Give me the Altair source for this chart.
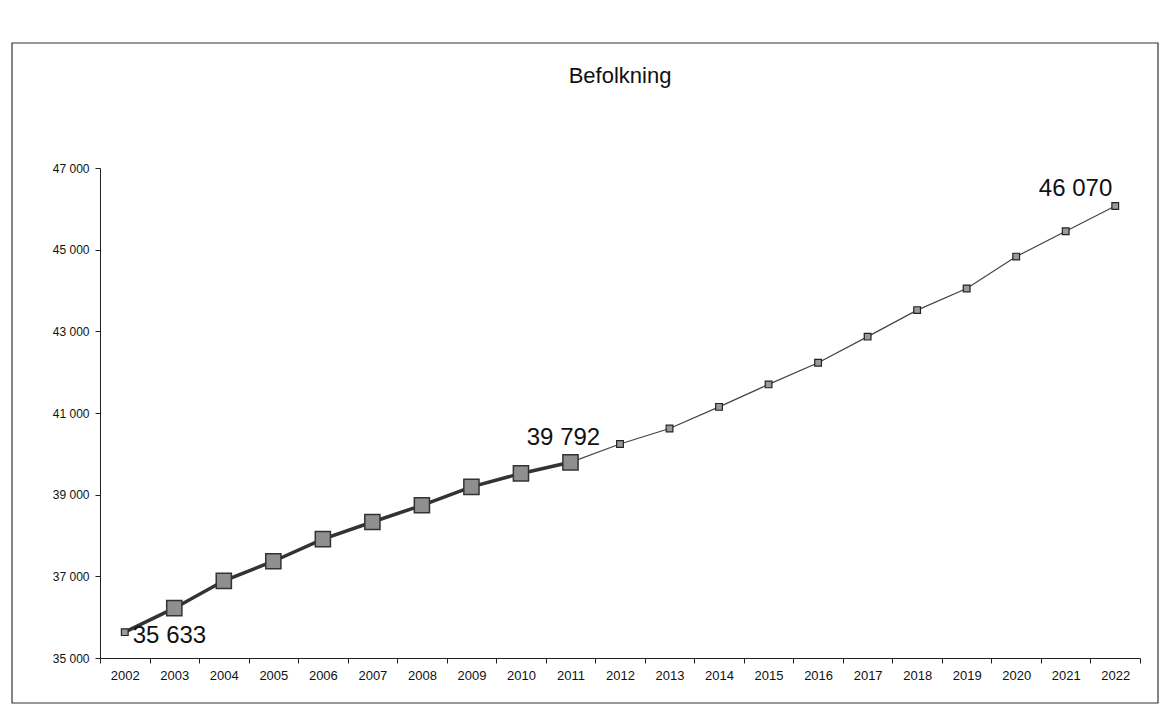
import altair as alt
import pandas as pd

years = [str(y) for y in range(2002, 2023)]
hist_years = [str(y) for y in range(2002, 2012)]
hist_values = [35633, 36220, 36890, 37370, 37910, 38330, 38740, 39190, 39520, 39792]
proj_years = [str(y) for y in range(2002, 2023)]
proj_values = [35633, 36220, 36890, 37370, 37910, 38330, 38740, 39190, 39520, 39792,
               40240, 40620, 41150, 41700, 42230, 42870, 43520, 44050, 44830, 45450, 46070]
label_years = ["2002", "2011", "2022"]
label_values = [35633, 39792, 46070]
label_texts = ["35 633", "39 792", "46 070"]
y_ticks = [35000, 37000, 39000, 41000, 43000, 45000, 47000]
title_text = "Befolkning"

W, H = 1040, 490
FONT = "Liberation Sans"

hist = pd.DataFrame({"year": hist_years, "value": hist_values})
hist_big = hist[hist["year"] != "2002"]
proj = pd.DataFrame({"year": proj_years, "value": proj_values})
labels = pd.DataFrame({"year": label_years, "value": label_values, "text": label_texts})

xs = alt.X("year:O", scale=alt.Scale(type="band", domain=years, paddingInner=0, paddingOuter=0),
           axis=alt.Axis(title=None, labelAngle=0, labelFont=FONT, labelFontSize=13,
                         labelColor="#111", domainColor="#222", tickColor="#222",
                         tickBand="extent", tickSize=5, labelPadding=6, grid=False))
ys = alt.Y("value:Q", scale=alt.Scale(domain=[35000, 47000], nice=False, zero=False),
           axis=alt.Axis(title=None, values=y_ticks, labelFont=FONT, labelFontSize=12,
                         labelColor="#111", domainColor="#222", tickColor="#222",
                         tickSize=5, labelPadding=6, grid=False,
                         labelExpr="replace(format(datum.value, ','), ',', ' ')"))

proj_line = alt.Chart(proj).mark_line(color="#444", strokeWidth=1.2).encode(x=xs, y=ys)
proj_pts = alt.Chart(proj).mark_point(shape="square", size=45, filled=True, color="#9a9a9a",
                                      stroke="#222", strokeWidth=1.2, opacity=1).encode(x=xs, y=ys)
hist_line = alt.Chart(hist).mark_line(color="#333", strokeWidth=3.5).encode(x=xs, y=ys)
hist_pts = alt.Chart(hist_big).mark_point(shape="square", size=230, filled=True, color="#8f8f8f",
                                          stroke="#333", strokeWidth=1.5, opacity=1).encode(x=xs, y=ys)

lab_first = alt.Chart(labels[labels["year"] == "2002"]).mark_text(
    font=FONT, fontSize=24, color="#111", align="left", baseline="middle", dx=8, dy=4
).encode(x=xs, y=ys, text="text:N")
lab_mid = alt.Chart(labels[labels["year"] == "2011"]).mark_text(
    font=FONT, fontSize=24, color="#111", align="center", baseline="bottom", dx=-7, dy=-12
).encode(x=xs, y=ys, text="text:N")
lab_last = alt.Chart(labels[labels["year"] == "2022"]).mark_text(
    font=FONT, fontSize=24, color="#111", align="right", baseline="bottom", dx=-3, dy=-5
).encode(x=xs, y=ys, text="text:N")

title = alt.Chart(pd.DataFrame({"t": [title_text]})).mark_text(
    font=FONT, fontSize=22, color="#111", align="center", baseline="middle"
).encode(x=alt.value(W / 2), y=alt.value(-92), text="t:N")

frame = alt.Chart(pd.DataFrame({"a": [0]})).mark_rect(
    fill=None, stroke="#333", strokeWidth=1.2
).encode(x=alt.value(-88), x2=alt.value(W + 18), y=alt.value(-125), y2=alt.value(H + 45))

chart = alt.layer(frame, title, proj_line, hist_line, proj_pts, hist_pts,
                  lab_first, lab_mid, lab_last).properties(
    width=W, height=H,
    autosize=alt.AutoSizeParams(type="none"),
    padding={"left": 92, "top": 160, "right": 20, "bottom": 50},
    background="white",
).configure_view(stroke=None)

chart.save("out.html", embed_options={"renderer": "svg", "actions": False})
